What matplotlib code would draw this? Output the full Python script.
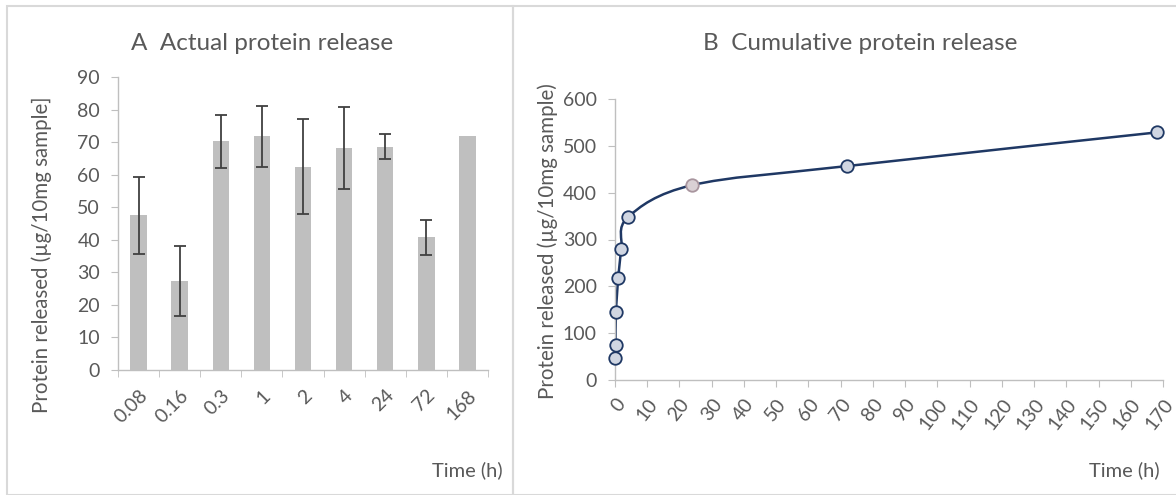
import numpy as np
import matplotlib
matplotlib.use('Agg')
import matplotlib.pyplot as plt
from matplotlib.path import Path
from matplotlib.patches import PathPatch, Rectangle

plt.rcParams['font.family'] = ['Lato', 'DejaVu Sans']

# Data
time_labels = ['0.08', '0.16', '0.3', '1', '2', '4', '24', '72', '168']
release = [47.5, 27.3, 70.2, 71.8, 62.5, 68.2, 68.6, 40.7, 71.8]
release_err = [11.8, 10.7, 8.0, 9.4, 14.6, 12.7, 3.8, 5.3, 0.0]

time_h = [0.08, 0.16, 0.3, 1, 2, 4, 24, 72, 168]
cumulative = [47.5, 74.8, 145.0, 216.8, 279.3, 347.5, 416.1, 456.8, 528.6]

grey_txt = '#595959'
axis_col = '#bfbfbf'
frame_col = '#d9d9d9'

fig = plt.figure(figsize=(11.76, 4.95), dpi=100)

# panel frames
fig.patches.append(Rectangle((7/1176, 0), (513-7)/1176, 489/495, transform=fig.transFigure,
                             fill=False, ec=frame_col, lw=1.5))
fig.patches.append(Rectangle((513/1176, 0), (1180-513)/1176, 489/495, transform=fig.transFigure,
                             fill=False, ec=frame_col, lw=1.5))

def style_axes(ax):
    for s in ['top', 'right']:
        ax.spines[s].set_visible(False)
    for s in ['left', 'bottom']:
        ax.spines[s].set_color(axis_col)
        ax.spines[s].set_linewidth(1.0)
    ax.tick_params(which='both', color=axis_col, labelcolor=grey_txt, labelsize=14)
    ax.set_facecolor('none')

#%% A  Actual protein release
axA = fig.add_axes([118/1176, (495-370)/495, 370/1176, 293/495])
x = np.arange(len(time_labels))
axA.bar(x, release, width=0.4, color='#bfbfbf', zorder=2)
err_idx = [i for i in range(len(release)) if release_err[i] > 0]
axA.errorbar(x[err_idx], np.array(release)[err_idx], yerr=np.array(release_err)[err_idx],
             fmt='none', ecolor='#404040', elinewidth=1.3, capsize=4, capthick=1.3, zorder=3)
axA.set_xlim(-0.5, len(time_labels) - 0.5)
axA.set_ylim(0, 90)
axA.set_yticks(np.arange(0, 91, 10))
axA.set_xticks(x)
axA.set_xticklabels(time_labels, rotation=45, ha='right', rotation_mode='anchor')
axA.set_xticks(np.arange(-0.5, len(time_labels), 1), minor=True)
style_axes(axA)
axA.tick_params(axis='x', which='major', length=0, pad=12)
axA.tick_params(axis='x', which='minor', length=5)
axA.tick_params(axis='y', length=5, pad=8)
fig.text(262/1176, 1 - 43/495, 'A  Actual protein release', ha='center', va='center',
         fontsize=17.5, color=grey_txt)
fig.text(42/1176, 1 - 255/495, 'Protein released (µg/10mg sample]', rotation=90,
         ha='center', va='center', fontsize=14.8, color=grey_txt)
fig.text(503/1176, 1 - 470/495, 'Time (h)', ha='right', va='center', fontsize=14.5, color=grey_txt)

#%% B  Cumulative protein release
axB = fig.add_axes([615/1176, (495-380)/495, 548/1176, 281/495])
axB.set_xlim(0, 170)
axB.set_ylim(0, 600)
axB.set_xticks(np.arange(0, 171, 10))
axB.set_yticks(np.arange(0, 601, 100))
plt.setp(axB.get_xticklabels(), rotation=52, ha='right', rotation_mode='anchor')
style_axes(axB)
axB.tick_params(axis='x', length=5, pad=6)
axB.tick_params(axis='y', length=5, pad=8)

# smoothed line (Catmull-Rom -> cubic bezier)
P = np.column_stack([time_h, cumulative])
verts = [tuple(P[0])]
codes = [Path.MOVETO]
n = len(P)
for i in range(n - 1):
    p0 = P[i - 1] if i > 0 else P[i]
    p1 = P[i]
    p2 = P[i + 1]
    p3 = P[i + 2] if i + 2 < n else P[i + 1]
    c1 = p1 + (p2 - p0) / 6
    c2 = p2 - (p3 - p1) / 6
    verts += [tuple(c1), tuple(c2), tuple(p2)]
    codes += [Path.CURVE4] * 3
axB.add_patch(PathPatch(Path(verts, codes), fill=False, ec='#1f3864', lw=1.8, zorder=2))

faces = ['#d0d6e2'] * len(time_h)
edges = ['#1f3864'] * len(time_h)
faces[6] = '#d9d0d4'
edges[6] = '#a8959e'
for xi, yi, fc, ec in zip(time_h, cumulative, faces, edges):
    axB.plot(xi, yi, 'o', ms=9, mfc=fc, mec=ec, mew=1.3, zorder=3, clip_on=False)

fig.text(860/1176, 1 - 43/495, 'B  Cumulative protein release', ha='center', va='center',
         fontsize=17.5, color=grey_txt)
fig.text(548/1176, 1 - 241/495, 'Protein released (µg/10mg sample)', rotation=90,
         ha='center', va='center', fontsize=14.8, color=grey_txt)
fig.text(1160/1176, 1 - 470/495, 'Time (h)', ha='right', va='center', fontsize=14.5, color=grey_txt)

plt.savefig('out.png', dpi=100)
